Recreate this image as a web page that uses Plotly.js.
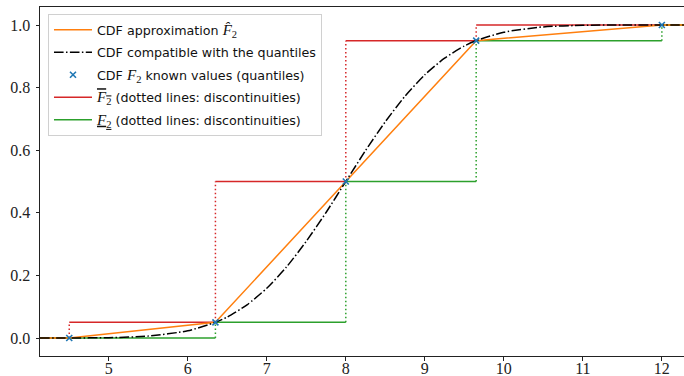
<!DOCTYPE html>
<html><head><meta charset="utf-8">
<script src="https://cdn.plot.ly/plotly-3.0.1.min.js"></script>
<style>html,body{margin:0;padding:0;background:#fff}</style>
</head><body><div id="chart" style="width:684px;height:376px"></div>
<script>
// Known quantiles of F2
const quantX = [4.5, 6.35, 8, 9.65, 12];
const quantP = [0, 0.05, 0.5, 0.95, 1];
const xLimits = [4.13, 12.28];
// Smooth CDF compatible with the quantiles
const smoothX = [4.13, 4.5, 5, 5.5, 6, 6.35, 6.5, 6.75, 7, 7.25, 7.5, 7.75, 8, 8.25, 8.5, 8.75, 9, 9.25, 9.5, 9.65, 10, 10.5, 11, 11.5, 12, 12.28];
const smoothP = [0, 0.0002, 0.001, 0.006, 0.023, 0.05, 0.067, 0.106, 0.159, 0.227, 0.309, 0.401, 0.5, 0.599, 0.691, 0.773, 0.841, 0.894, 0.933, 0.95, 0.977, 0.994, 0.999, 1.0, 1.0, 1.0];
const xTicks = [5, 6, 7, 8, 9, 10, 11, 12];
const yTicks = [0, 0.2, 0.4, 0.6, 0.8, 1.0];
const yTickText = ['0.0', '0.2', '0.4', '0.6', '0.8', '1.0'];

const breaks = [xLimits[0], ...quantX, xLimits[1]];
const upperLevels = [0, ...quantP.slice(1), 1];
const lowerLevels = [0, ...quantP];

const SERIF = "'Liberation Serif', 'Times New Roman', serif";

function stepTraces(levels, color, name, rank) {
  const hx = [], hy = [], vx = [], vy = [];
  for (let i = 0; i < levels.length; i++) {
    hx.push(breaks[i], breaks[i + 1], null);
    hy.push(levels[i], levels[i], null);
    if (i > 0 && levels[i] !== levels[i - 1]) {
      vx.push(breaks[i], breaks[i], null);
      vy.push(levels[i - 1], levels[i], null);
    }
  }
  return [
    {x: hx, y: hy, mode: 'lines', line: {color: color, width: 1.5}, name: name, legendrank: rank, legendgroup: 'g' + rank, hoverinfo: 'skip'},
    {x: vx, y: vy, mode: 'lines', line: {color: color, width: 1.5, dash: '1.5px,2.5px'}, showlegend: false, legendgroup: 'g' + rank, hoverinfo: 'skip'}
  ];
}

const F = (deco, hat) => `<span style="font-family:${SERIF};font-size:15px;${deco}"><i>${hat ? 'F\u0302' : 'F'}</i><sub>2</sub></span>`;

const traces = [
  ...stepTraces(upperLevels, '#d62728', `${F('text-decoration:overline', false)} (dotted lines: discontinuities)`, 4),
  ...stepTraces(lowerLevels, '#2ca02c', `${F('text-decoration:underline', false)} (dotted lines: discontinuities)`, 5),
  {x: [xLimits[0], ...quantX, xLimits[1]], y: [0, ...quantP, 1], mode: 'lines', line: {color: '#ff7f0e', width: 1.5},
   name: `CDF approximation ${F('', true)}`, legendrank: 1, legendgroup: 'g1'},
  {x: smoothX, y: smoothP, mode: 'lines', line: {color: '#000', width: 1.5, dash: '9.6px,2.4px,1.5px,2.4px', shape: 'spline', smoothing: 0.6},
   name: 'CDF compatible with the quantiles', legendrank: 2, legendgroup: 'g2'},
  {x: quantX, y: quantP, mode: 'markers', marker: {symbol: 'x-thin', size: 6, line: {color: '#1f77b4', width: 1.6}, color: '#1f77b4'},
   name: `CDF ${F('', false)} known values (quantiles)`, legendrank: 3, legendgroup: 'g3'}
];

const axisBase = {showline: true, mirror: true, linecolor: '#222', linewidth: 1, ticks: 'outside', ticklen: 3.5, tickcolor: '#222',
  showgrid: false, zeroline: false, tickfont: {family: SERIF, size: 16, color: '#222'}};

const layout = {
  width: 684, height: 376,
  margin: {l: 40, r: 0, t: 7, b: 20},
  paper_bgcolor: '#fff', plot_bgcolor: '#fff',
  xaxis: Object.assign({}, axisBase, {range: xLimits, tickvals: xTicks, ticklabelstandoff: -6}),
  yaxis: Object.assign({}, axisBase, {range: [-0.0575, 1.0575], tickvals: yTicks, ticktext: yTickText, ticklabelstandoff: 2}),
  legend: {x: 0.0124, y: 0.98, xanchor: 'left', yanchor: 'top', bgcolor: 'rgba(255,255,255,0.85)', bordercolor: '#d0d0d0', borderwidth: 1,
    font: {family: 'DejaVu Sans', size: 12.7, color: '#111'}, traceorder: 'grouped', tracegroupgap: 3, itemwidth: 38},
  showlegend: true
};

Plotly.newPlot('chart', traces, layout, {staticPlot: true});
</script></body></html>
